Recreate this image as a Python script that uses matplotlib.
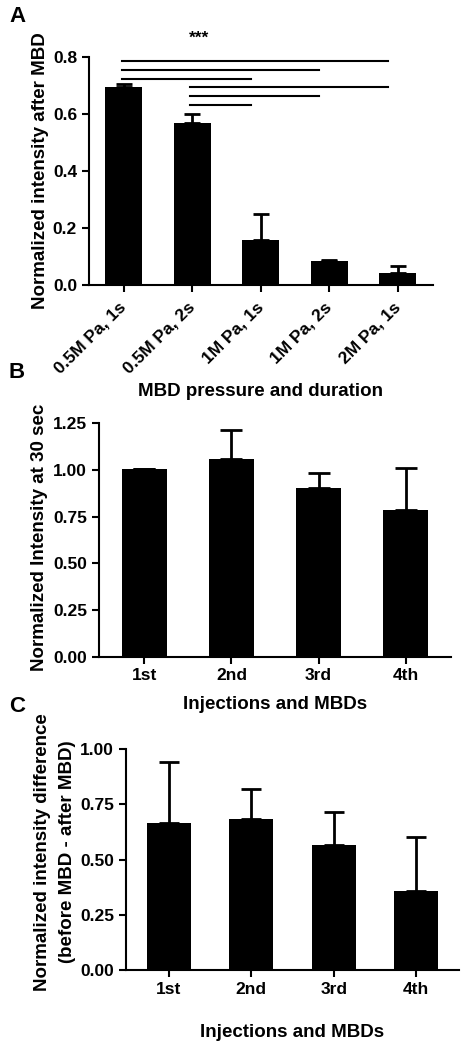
"""
Three bar charts with error bars: normalized intensity after MBD (A),
normalized intensity at 30 sec (B), intensity difference (C).
"""

import numpy as np
import matplotlib
matplotlib.use("Agg")
import matplotlib.pyplot as plt

plt.rcParams["font.family"] = ["Liberation Sans", "DejaVu Sans"]
plt.rcParams["font.weight"] = "bold"

# Panel A data
a_labels = ["0.5M Pa, 1s", "0.5M Pa, 2s", "1M Pa, 1s", "1M Pa, 2s", "2M Pa, 1s"]
a_means = [0.694, 0.568, 0.158, 0.083, 0.043]
a_err = [0.010, 0.032, 0.092, 0.006, 0.023]
# significance brackets: (from bar, to bar, height)
a_sig = [(0, 4, 0.786), (0, 3, 0.755), (0, 2, 0.724),
         (1, 4, 0.694), (1, 3, 0.662), (1, 2, 0.631)]

# Panel B data
b_labels = ["1st", "2nd", "3rd", "4th"]
b_means = [1.005, 1.057, 0.902, 0.786]
b_err = [0.0, 0.157, 0.084, 0.223]

# Panel C data
c_labels = ["1st", "2nd", "3rd", "4th"]
c_means = [0.665, 0.686, 0.565, 0.358]
c_err = [0.279, 0.134, 0.151, 0.245]

LW = 1.5
FS = 12.5
LFS = 13.5

fig = plt.figure(figsize=(4.68, 10.5), dpi=100)
axA = fig.add_axes([0.190, 0.7286, 0.735, 0.2171])
axB = fig.add_axes([0.2115, 0.3746, 0.7522, 0.2222])
axC = fig.add_axes([0.2692, 0.0762, 0.7115, 0.2102])


def style(ax):
    for s in ["top", "right"]:
        ax.spines[s].set_visible(False)
    for s in ["left", "bottom"]:
        ax.spines[s].set_linewidth(LW)
    ax.tick_params(direction="out", length=5, width=LW, labelsize=FS)
    for lab in ax.get_yticklabels():
        lab.set_fontweight("bold")


def bars(ax, means, err, width, capsize):
    x = np.arange(len(means))
    ax.bar(x, means, width=width, color="black", zorder=2)
    ax.errorbar(x, means, yerr=[np.zeros(len(err)), err], fmt="none",
                ecolor="black", elinewidth=2, capsize=capsize, capthick=2,
                zorder=1)
    return x


# Panel A
x = bars(axA, a_means, a_err, 0.54, 6)
axA.set_xlim(-0.51, 4.51)
axA.set_ylim(0, 0.8)
axA.set_yticks([0.0, 0.2, 0.4, 0.6, 0.8])
axA.set_yticklabels(["0.0", "0.2", "0.4", "0.6", "0.8"])
axA.set_xticks(x)
axA.set_xticklabels(a_labels, rotation=45, ha="right", va="center",
                    rotation_mode="anchor", fontweight="bold")
style(axA)
axA.tick_params(axis="x", pad=9)
for i, j, h in a_sig:
    axA.plot([i - 0.03, j - 0.15], [h, h], color="black", lw=1.5,
             clip_on=False)
axA.text(1.1, 0.867, "***", ha="center", va="center", fontsize=FS,
         fontweight="bold", clip_on=False)
axA.set_ylabel("Normalized intensity after MBD", fontsize=LFS, fontweight="bold")
axA.yaxis.set_label_coords(-0.142, 0.5)
axA.yaxis.label.set_va("center")
axA.set_xlabel("MBD pressure and duration", fontsize=LFS, fontweight="bold")
axA.xaxis.set_label_coords(0.5, -0.469)
axA.xaxis.label.set_va("center")

# Panel B
x = bars(axB, b_means, b_err, 0.52, 8)
axB.set_xlim(-0.52, 3.52)
axB.set_ylim(0, 1.25)
axB.set_yticks([0.0, 0.25, 0.5, 0.75, 1.0, 1.25])
axB.set_yticklabels(["0.00", "0.25", "0.50", "0.75", "1.00", "1.25"])
axB.set_xticks(x)
axB.set_xticklabels(b_labels, fontweight="bold")
style(axB)
axB.set_ylabel("Normalized Intensity at 30 sec", fontsize=LFS, fontweight="bold")
axB.yaxis.set_label_coords(-0.170, 0.513)
axB.yaxis.label.set_va("center")
axB.set_xlabel("Injections and MBDs", fontsize=LFS, fontweight="bold")
axB.xaxis.set_label_coords(0.5, -0.207)
axB.xaxis.label.set_va("center")

# Panel C
x = bars(axC, c_means, c_err, 0.53, 7)
axC.set_xlim(-0.52, 3.52)
axC.set_ylim(0, 1.0)
axC.set_yticks([0.0, 0.25, 0.5, 0.75, 1.0])
axC.set_yticklabels(["0.00", "0.25", "0.50", "0.75", "1.00"])
axC.set_xticks(x)
axC.set_xticklabels(c_labels, fontweight="bold")
style(axC)
axC.set_ylabel("Normalized intensity difference\n(before MBD - after MBD)",
               fontsize=LFS, fontweight="bold", linespacing=1.6)
axC.yaxis.set_label_coords(-0.213, 0.535)
axC.yaxis.label.set_va("center")
axC.set_xlabel("Injections and MBDs", fontsize=LFS, fontweight="bold")
axC.xaxis.set_label_coords(0.5, -0.281)
axC.xaxis.label.set_va("center")

# Panel letters
for letter, ypix in [("A", 17), ("B", 372), ("C", 706)]:
    fig.text(17 / 468, 1 - ypix / 1050, letter, fontsize=16, fontweight="bold",
             ha="center", va="center")

plt.savefig("out.png", dpi=100)
plt.close()
